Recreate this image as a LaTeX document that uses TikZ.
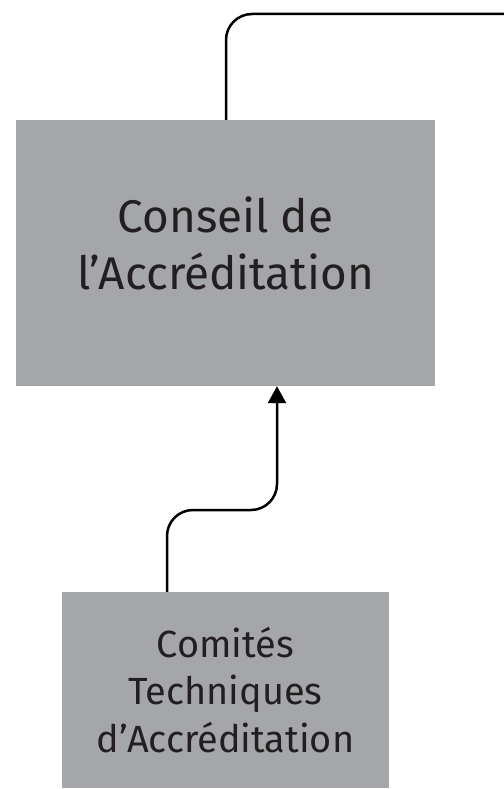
\documentclass[tikz,border=0pt]{standalone}
\usepackage{fontspec}
\setmainfont{Fira Sans}
\usetikzlibrary{arrows.meta}
\definecolor{boxgray}{HTML}{A5A6AA}
\definecolor{ink}{HTML}{231F20}
\tikzset{
  orgbox/.style={fill=boxgray,text=ink,align=center,inner sep=0pt},
  link/.style={line width=2.5bp,rounded corners=26bp}
}
\begin{document}
\begin{tikzpicture}[x=1bp,y=-1bp]
        \useasboundingbox (0,0) rectangle (504,789);
        %% boxes
        \node[orgbox,minimum width=419bp,minimum height=266bp,text height=100bp,text depth=28bp,font=\fontsize{46}{57}\selectfont] (conseil) at (225.5,253) {Conseil de\\l’Accréditation};
        \node[orgbox,minimum width=327bp,minimum height=196bp,text height=130bp,text depth=6bp,font=\fontsize{38}{47.5}\selectfont] (comites) at (225.5,690) {Comités\\Techniques\\d’Accréditation};
        %% upward line leaving the page
        \coordinate (exit) at (504,14);
        \draw[link] (conseil.north -| 226,0) -- (226,14) -- (exit);
        %% arrow
        \draw[link,-{Triangle[width=18bp,length=17bp]}] (comites.north -| 167,0) -- (167,510) -- (277,510) -- (conseil.south -| 277,0);
    \end{tikzpicture}
\end{document}
